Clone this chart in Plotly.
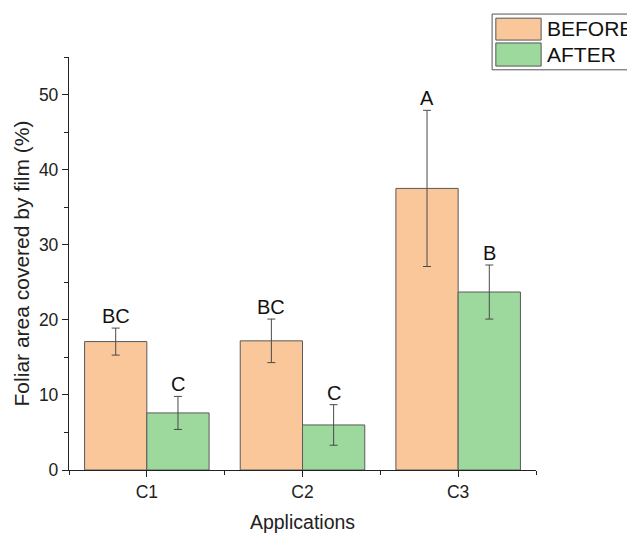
import plotly.graph_objects as go

categories = ["C1", "C2", "C3"]
before_vals = [17.1, 17.2, 37.5]
before_err = [1.8, 2.9, 10.4]
after_vals = [7.6, 6.0, 23.7]
after_err = [2.2, 2.7, 3.6]
before_letters = ["BC", "BC", "A"]
after_letters = ["C", "C", "B"]

xpos = [1, 2, 3]
c_before = "#F9C79A"
c_after = "#9DD99D"
font_family = "Liberation Sans, Arial, sans-serif"

fig = go.Figure()
fig.add_trace(go.Bar(
    x=xpos, y=before_vals, name="BEFORE", width=0.4, offset=-0.4,
    marker=dict(color=c_before, line=dict(color="#5a5a5a", width=1)),
    error_y=dict(type="data", array=before_err, color="#4a4a4a", thickness=1, width=4),
    showlegend=False,
))
fig.add_trace(go.Bar(
    x=xpos, y=after_vals, name="AFTER", width=0.4, offset=0,
    marker=dict(color=c_after, line=dict(color="#5a5a5a", width=1)),
    error_y=dict(type="data", array=after_err, color="#4a4a4a", thickness=1, width=4),
    showlegend=False,
))

for i, x in enumerate(xpos):
    fig.add_annotation(x=x - 0.2, y=before_vals[i] + before_err[i], text=before_letters[i],
                       showarrow=False, yanchor="bottom", yshift=-1,
                       font=dict(size=20, color="#111", family=font_family))
    fig.add_annotation(x=x + 0.2, y=after_vals[i] + after_err[i], text=after_letters[i],
                       showarrow=False, yanchor="bottom", yshift=-1,
                       font=dict(size=20, color="#111", family=font_family))

# custom legend (large swatches, box clipped at the right edge)
legend_items = [("BEFORE", c_before, 1.094, 1.041, 1.068),
                ("AFTER", c_after, 1.034, 0.978, 1.006)]
fig.add_shape(type="rect", xref="paper", yref="paper", x0=0.906, x1=1.3, y0=0.969, y1=1.104,
              line=dict(color="#555", width=1), fillcolor="white")
for lab, col, yt, yb, yc in legend_items:
    fig.add_shape(type="rect", xref="paper", yref="paper", x0=0.914, x1=1.011,
                  y0=yb, y1=yt, line=dict(color="#555", width=1), fillcolor=col)
    fig.add_annotation(xref="paper", yref="paper", x=1.020, y=yc, text=lab,
                       showarrow=False, xanchor="left", yanchor="middle",
                       font=dict(size=21, color="#111", family=font_family))

fig.update_layout(
    width=627, height=526,
    margin=dict(l=61, r=99, t=49, b=64, autoexpand=False),
    paper_bgcolor="white", plot_bgcolor="white",
    font=dict(family=font_family, color="#222"),
    barmode="overlay",
    xaxis=dict(range=[0.5, 3.5], tickvals=xpos, ticktext=categories, automargin=False,
               showgrid=False, zeroline=False, showline=True, linecolor="#222", linewidth=1.3,
               ticks="outside", ticklen=6, tickcolor="#222",
               minor=dict(tick0=0.5, dtick=1, ticks="outside", ticklen=4, tickcolor="#222"),
               tickfont=dict(size=17.5, color="#222"),
               title=dict(text="Applications", font=dict(size=19.5, color="#222"), standoff=14)),
    yaxis=dict(range=[0, 55], tickvals=[0, 10, 20, 30, 40, 50], automargin=False,
               showgrid=False, zeroline=False, showline=True, linecolor="#222", linewidth=1.3,
               ticks="outside", ticklen=6, tickcolor="#222",
               minor=dict(dtick=5, ticks="outside", ticklen=4, tickcolor="#222"),
               tickfont=dict(size=17.5, color="#222"),
               title=dict(text="Foliar area covered by film (%)", font=dict(size=21, color="#222"), standoff=3)),
)

fig.write_html("out.html")
